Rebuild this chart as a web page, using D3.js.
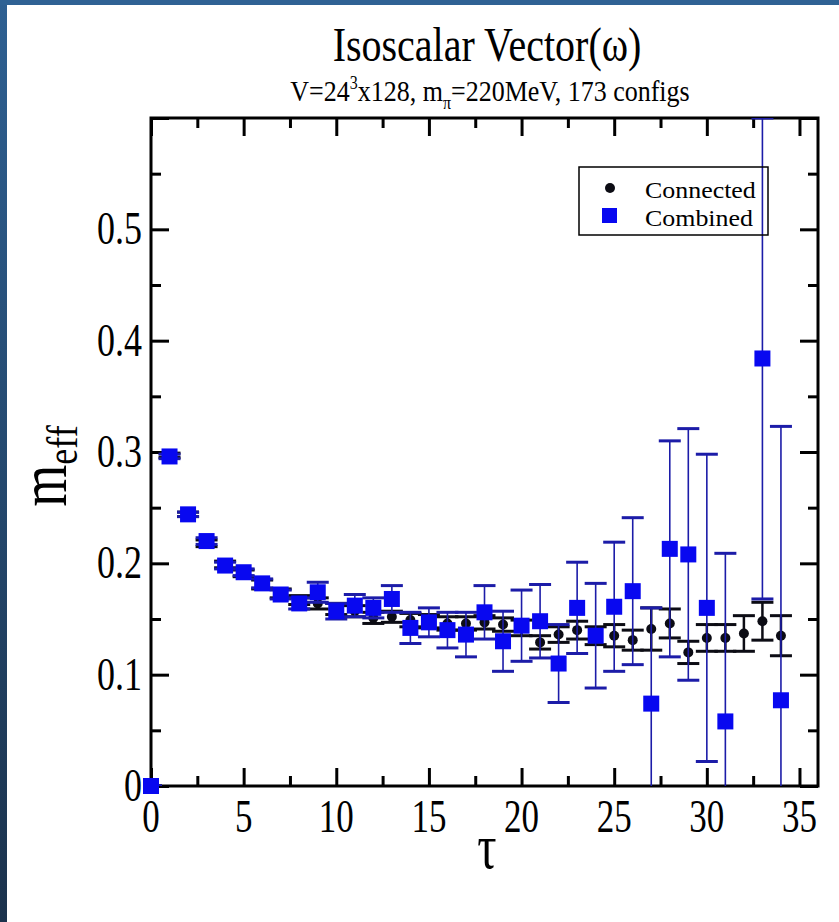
<!DOCTYPE html>
<html>
<head>
<meta charset="utf-8">
<script src="https://cdn.jsdelivr.net/npm/d3@7"></script>
<style>
  html, body { margin: 0; padding: 0; background: #fff; }
  svg { display: block; }
  text { font-family: "Liberation Serif", "Times New Roman", serif; fill: #000; }
</style>
</head>
<body>
<svg id="chart" width="839" height="922"></svg>
<script>
// effective mass vs tau
const TAU = [0, 1, 2, 3, 4, 5, 6, 7, 8, 9, 10, 11, 12, 13, 14, 15, 16, 17,
  18, 19, 20, 21, 22, 23, 24, 25, 26, 27, 28, 29, 30, 31, 32, 33, 34]

const CONNECTED = [0, 0.297, 0.244, 0.218, 0.199, 0.191, 0.181, 0.173, 0.167,
  0.164, 0.159, 0.157, 0.151, 0.152, 0.149, 0.148, 0.146, 0.146, 0.147, 0.145,
  0.142, 0.129, 0.136, 0.140, 0.135, 0.135, 0.131, 0.141, 0.146, 0.120, 0.133,
  0.133, 0.137, 0.148, 0.135]
const CONNECTED_ERR = [0, 0.002, 0.002, 0.003, 0.003, 0.003, 0.004, 0.004,
  0.004, 0.005, 0.005, 0.005, 0.005, 0.005, 0.006, 0.006, 0.006, 0.006, 0.006,
  0.006, 0.007, 0.006, 0.007, 0.008, 0.008, 0.010, 0.009, 0.019, 0.013, 0.010,
  0.012, 0.012, 0.016, 0.017, 0.018]

const COMBINED = [0, 0.296, 0.244, 0.220, 0.198, 0.192, 0.182, 0.172, 0.164,
  0.174, 0.157, 0.162, 0.160, 0.168, 0.142, 0.147, 0.140, 0.136, 0.156, 0.130,
  0.144, 0.148, 0.110, 0.160, 0.135, 0.161, 0.175, 0.074, 0.213, 0.208, 0.160,
  0.058, null, 0.384, 0.077]
const COMBINED_ERR = [0, 0.002, 0.002, 0.003, 0.003, 0.003, 0.004, 0.004,
  0.005, 0.009, 0.007, 0.010, 0.009, 0.012, 0.014, 0.013, 0.016, 0.020, 0.024,
  0.027, 0.032, 0.033, 0.035, 0.041, 0.047, 0.058, 0.066, 0.086, 0.097, 0.113,
  0.138, 0.151, null, 0.216, 0.246]

const X_TICKS = [0, 5, 10, 15, 20, 25, 30, 35]
const X_MINOR = [2.5, 7.5, 12.5, 17.5, 22.5, 27.5, 32.5]
const Y_TICKS = [0, 0.1, 0.2, 0.3, 0.4, 0.5, 0.6]
const Y_LABELS = [0, 0.1, 0.2, 0.3, 0.4, 0.5]
const Y_MINOR = [0.05, 0.15, 0.25, 0.35, 0.45, 0.55]

const BLUE = '#0808f0'
const BLUE_LINE = '#1c1ca8'
const BLACK = '#0c0c14'
const STRETCH = 1.3  // glyphs in the source are taller than Liberation Serif

const svg = d3.select('#chart')

// slide background edges
const defs = svg.append('defs')
const lg = defs.append('linearGradient').attr('id', 'edge')
  .attr('x1', 0).attr('y1', 0).attr('x2', 0).attr('y2', 1)
lg.append('stop').attr('offset', 0).attr('stop-color', '#2e6092')
lg.append('stop').attr('offset', 1).attr('stop-color', '#1b324c')
svg.append('rect').attr('x', 0).attr('y', 0).attr('width', 7).attr('height', 922)
  .attr('fill', 'url(#edge)')
svg.append('rect').attr('x', 0).attr('y', 0).attr('width', 839).attr('height', 5)
  .attr('fill', '#2f6294')

defs.append('clipPath').attr('id', 'plot-clip')
  .append('rect').attr('x', 151).attr('y', 118).attr('width', 667).attr('height', 668)

const x = d3.scaleLinear().domain([0, 36]).range([151, 818])
const y = d3.scaleLinear().domain([0, 0.6]).range([786, 118])

const stretched = (g, tx, ty, str, size, anchor, k, kx) =>
  g.append('text')
    .attr('transform', `translate(${tx},${ty}) scale(${kx || 1},${k || STRETCH})`)
    .attr('text-anchor', anchor || 'middle')
    .style('font-size', size + 'px')
    .text(str)

// axes: ticks on all four sides, pointing inward
const axisG = svg.append('g')
const styleAxis = g => {
  g.select('.domain').remove()
  g.selectAll('line').attr('stroke', '#000').attr('stroke-width', 3)
}
const addAxis = (axis, vals, size, tr) => axisG.append('g')
  .attr('transform', tr)
  .call(axis.tickValues(vals).tickSize(-size).tickFormat(''))
  .call(styleAxis)

addAxis(d3.axisBottom(x), X_TICKS, 18, `translate(0,${y(0)})`)
addAxis(d3.axisBottom(x), X_MINOR, 10, `translate(0,${y(0)})`)
addAxis(d3.axisTop(x), X_TICKS, 18, `translate(0,${y(0.6)})`)
addAxis(d3.axisTop(x), X_MINOR, 10, `translate(0,${y(0.6)})`)
addAxis(d3.axisLeft(y), Y_TICKS, 18, `translate(${x(0)},0)`)
addAxis(d3.axisLeft(y), Y_MINOR, 10, `translate(${x(0)},0)`)
addAxis(d3.axisRight(y), Y_TICKS, 18, `translate(${x(36)},0)`)
addAxis(d3.axisRight(y), Y_MINOR, 10, `translate(${x(36)},0)`)

svg.append('rect')
  .attr('x', x(0)).attr('y', y(0.6))
  .attr('width', x(36) - x(0)).attr('height', y(0) - y(0.6))
  .attr('fill', 'none').attr('stroke', '#000').attr('stroke-width', 3)

// tick labels
const labels = svg.append('g')
X_TICKS.forEach(t => stretched(labels, x(t), 832, String(t), 35))
Y_LABELS.forEach(v => stretched(labels, 142, y(v) + 15, String(v), 36, 'end'))

// error bars
const errorBars = (vals, errs, color, lineW, capW, capHalf) => {
  const data = TAU.map((t, i) => ({t, v: vals[i], e: errs[i]}))
    .filter(d => d.v !== null)
  const g = svg.append('g').attr('clip-path', 'url(#plot-clip)')
  g.selectAll('line.v').data(data).join('line')
    .attr('x1', d => x(d.t)).attr('x2', d => x(d.t))
    .attr('y1', d => y(d.v - d.e)).attr('y2', d => y(d.v + d.e))
    .attr('stroke', color).attr('stroke-width', lineW)
  ;[-1, 1].forEach(s => {
    g.selectAll(null).data(data).join('line')
      .attr('x1', d => x(d.t) - capHalf).attr('x2', d => x(d.t) + capHalf)
      .attr('y1', d => y(d.v + s * d.e)).attr('y2', d => y(d.v + s * d.e))
      .attr('stroke', color).attr('stroke-width', capW)
  })
  return data
}

const conn = errorBars(CONNECTED, CONNECTED_ERR, BLACK, 2.5, 3, 11)
svg.append('g').selectAll('circle').data(conn).join('circle')
  .attr('cx', d => x(d.t)).attr('cy', d => y(d.v)).attr('r', 5)
  .attr('fill', BLACK)

const comb = errorBars(COMBINED, COMBINED_ERR, BLUE_LINE, 1.6, 3, 11)
svg.append('g').selectAll('rect').data(comb).join('rect')
  .attr('x', d => x(d.t) - 8).attr('y', d => y(d.v) - 8)
  .attr('width', 16).attr('height', 16)
  .attr('fill', BLUE)

// titles
const titles = svg.append('g')
stretched(titles, 487, 61, 'Isoscalar Vector(ω)', 40, 'middle', 1.22)
const sub = titles.append('text')
  .attr('transform', `translate(490,101) scale(1,1.12)`)
  .attr('text-anchor', 'middle')
  .style('font-size', '26px')
sub.append('tspan').text('V=24')
sub.append('tspan').attr('dy', -11).style('font-size', '16px').text('3')
sub.append('tspan').attr('dy', 11).text('x128, m')
sub.append('tspan').attr('dy', 7).style('font-size', '16px').text('π')
sub.append('tspan').attr('dy', -7).text('=220MeV, 173 configs')

stretched(titles, 487, 868, 'τ', 48)

const yl = titles.append('text')
  .attr('transform', `translate(66,466) rotate(-90) scale(1,1.25)`)
  .attr('text-anchor', 'middle')
  .style('font-size', '54px')
yl.append('tspan').text('m')
yl.append('tspan').attr('dy', 9).style('font-size', '36px').text('eff')

// legend
const leg = svg.append('g')
leg.append('rect').attr('x', 579).attr('y', 167).attr('width', 189).attr('height', 68)
  .attr('fill', 'none').attr('stroke', '#000').attr('stroke-width', 1.5)
leg.append('circle').attr('cx', 610).attr('cy', 188).attr('r', 5).attr('fill', BLACK)
leg.append('rect').attr('x', 602).attr('y', 208).attr('width', 15).attr('height', 15)
  .attr('fill', BLUE)
stretched(leg, 645, 198, 'Connected', 24, 'start', 1.0, 1.08)
stretched(leg, 645, 226, 'Combined', 24, 'start', 1.0, 1.08)
</script>
</body>
</html>
